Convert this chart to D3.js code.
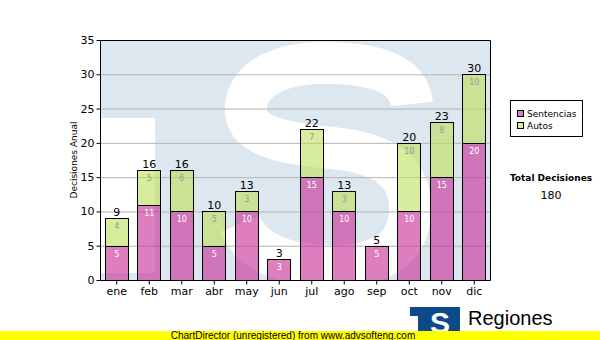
<!DOCTYPE html>
<html><head><meta charset="utf-8">
<script src="https://cdn.jsdelivr.net/npm/d3@7"></script>
<style>body{margin:0;background:#fff}svg{display:block}</style>
</head><body>
<script>
const months = ["ene","feb","mar","abr","may","jun","jul","ago","sep","oct","nov","dic"];
const sentencias = [5,11,10,5,10,3,15,10,5,10,15,20];
const autos = [4,5,6,5,3,0,7,3,0,10,8,10];
const yTicks = [0,5,10,15,20,25,30,35];
const seriesNames = ["Sentencias","Autos"];
const totalLabel = "Total Decisiones";

const W=600,H=340;
const m={l:100,r:490,t:40,b:280};
const svg=d3.select("body").append("svg").attr("width",W).attr("height",H);
const font="DejaVu Sans, Verdana, sans-serif";

const x=d3.scaleBand().domain(months).range([m.l,m.r]).paddingInner(0.28).paddingOuter(0.14);
const y=d3.scaleLinear().domain([0,35]).range([m.b,m.t]);

// watermark
svg.append("clipPath").attr("id","pc").append("rect").attr("x",m.l).attr("y",m.t).attr("width",m.r-m.l).attr("height",m.b-m.t);
const wm=svg.append("g").attr("clip-path","url(#pc)");
wm.append("rect").attr("x",m.l).attr("y",m.t).attr("width",m.r-m.l).attr("height",m.b-m.t).attr("fill","#dde7f0");
wm.append("rect").attr("x",101).attr("y",118).attr("width",54).attr("height",155).attr("fill","#fff");
wm.append("path").attr("d","M 412,104 C 408,68 360,62 318,63 C 268,65 244,86 246,112 C 248,138 290,144 332,148 C 385,153 410,172 410,208 C 410,252 378,266 330,266 C 290,266 252,254 240,224")
  .attr("fill","none").attr("stroke","#fff").attr("stroke-width",42);

// gridlines
svg.append("g").selectAll("line").data(yTicks.filter(d=>d>0&&d<35)).join("line")
  .attr("x1",m.l).attr("x2",m.r).attr("y1",d=>y(d)+0.5).attr("y2",d=>y(d)+0.5)
  .attr("stroke","#b4b4b4").attr("stroke-width",1);

// stacked bars
const data=months.map((mo,i)=>({mo,s:sentencias[i],a:autos[i]}));
const stack=d3.stack().keys(["s","a"])(data);
const colors=["rgba(198,42,148,0.6)","rgba(188,223,90,0.6)"];
const g=svg.append("g");
stack.forEach((layer,k)=>{
  g.selectAll(null).data(layer.filter(d=>d[1]>d[0])).join("rect")
   .attr("x",d=>Math.round(x(d.data.mo))+0.5).attr("y",d=>Math.round(y(d[1]))+0.5)
   .attr("width",Math.round(x.bandwidth()))
   .attr("height",d=>Math.round(y(d[0]))-Math.round(y(d[1])))
   .attr("fill",colors[k]).attr("stroke","#000").attr("stroke-width",1);
  g.selectAll(null).data(layer.filter(d=>d[1]>d[0])).join("text")
   .attr("x",d=>x(d.data.mo)+x.bandwidth()/2+0.5).attr("y",d=>y(d[1])+11)
   .attr("text-anchor","middle").attr("font-family",font).attr("font-size",8)
   .attr("fill",k===0?"#fff":"#999").text(d=>d[1]-d[0]);
});
// totals
g.selectAll(null).data(data).join("text")
  .attr("x",d=>x(d.mo)+x.bandwidth()/2+0.5).attr("y",d=>y(d.s+d.a)-2)
  .attr("text-anchor","middle").attr("font-family",font).attr("font-size",11)
  .attr("fill","#000").text(d=>d.s+d.a);

// border
svg.append("path").attr("d",`M${m.l+0.5},${m.b+0.5}V${m.t+0.5}H${m.r+0.5}V${m.b+0.5}Z`).attr("fill","none").attr("stroke","#000");

// axes
const ya=svg.append("g").attr("transform",`translate(${m.l+0.5},0)`)
  .call(d3.axisLeft(y).tickValues(yTicks).tickSize(4).tickPadding(2));
const xa=svg.append("g").attr("transform",`translate(0,${m.b+0.5})`)
  .call(d3.axisBottom(x).tickSize(4).tickPadding(3));
[ya,xa].forEach(a=>{a.select(".domain").remove();a.selectAll("line").attr("stroke","#000");
  a.selectAll("text").attr("font-family",font).attr("font-size",11).attr("fill","#000");});
xa.selectAll(".tick").attr("transform",d=>`translate(${x(d)+x.bandwidth()/2+0.5},0)`);

svg.append("text").attr("transform","translate(77,160) rotate(-90)").attr("text-anchor","middle")
  .attr("font-family",font).attr("font-size",9).attr("fill","#000").text("Decisiones Anual");

// legend
const lg=svg.append("g");
lg.append("rect").attr("x",510.5).attr("y",100.5).attr("width",72).attr("height",36).attr("fill","#fff").attr("stroke","#000");
seriesNames.forEach((n,i)=>{
  lg.append("rect").attr("x",517.5).attr("y",110.5+i*12).attr("width",6).attr("height",6)
    .attr("fill",colors[i]).attr("stroke","#000");
  lg.append("text").attr("x",527).attr("y",117+i*12).attr("font-family",font).attr("font-size",9).attr("fill","#000").text(n);
});
svg.append("text").attr("x",551).attr("y",181).attr("text-anchor","middle").attr("font-family",font)
  .attr("font-size",9).attr("font-weight","bold").attr("fill","#000").text(totalLabel);
svg.append("text").attr("x",551).attr("y",199).attr("text-anchor","middle").attr("font-family",font)
  .attr("font-size",11).attr("fill","#000").text(d3.sum(sentencias)+d3.sum(autos));

// logo
const lo=svg.append("g");
lo.append("rect").attr("x",410).attr("y",307).attr("width",50).attr("height",26).attr("fill","#0d4a8c");
lo.append("rect").attr("x",410).attr("y",316).attr("width",8).attr("height",18).attr("fill","#fff");
lo.append("text").attr("x",440).attr("y",333).attr("text-anchor","middle").attr("font-family","Liberation Sans, Arial, sans-serif")
  .attr("font-size",30).attr("font-weight","bold").attr("fill","#fff").text("S");
lo.append("text").attr("x",468).attr("y",325).attr("font-family","Liberation Sans, Arial, sans-serif").attr("font-size",20).attr("fill","#000").text("Regiones");
lo.append("text").attr("x",467).attr("y",336).attr("font-family","Liberation Sans, Arial, sans-serif").attr("font-size",8).attr("fill","#000").text("Tribunal Supremo de Justicia");

// yellow bar
svg.append("rect").attr("x",0).attr("y",331).attr("width",600).attr("height",9).attr("fill","#ffff00");
svg.append("text").attr("x",293).attr("y",339).attr("text-anchor","middle").attr("font-family","Liberation Sans, Arial, sans-serif")
  .attr("font-size",10).attr("fill","#000").text("ChartDirector (unregistered) from www.advsofteng.com");
</script>
</body></html>
